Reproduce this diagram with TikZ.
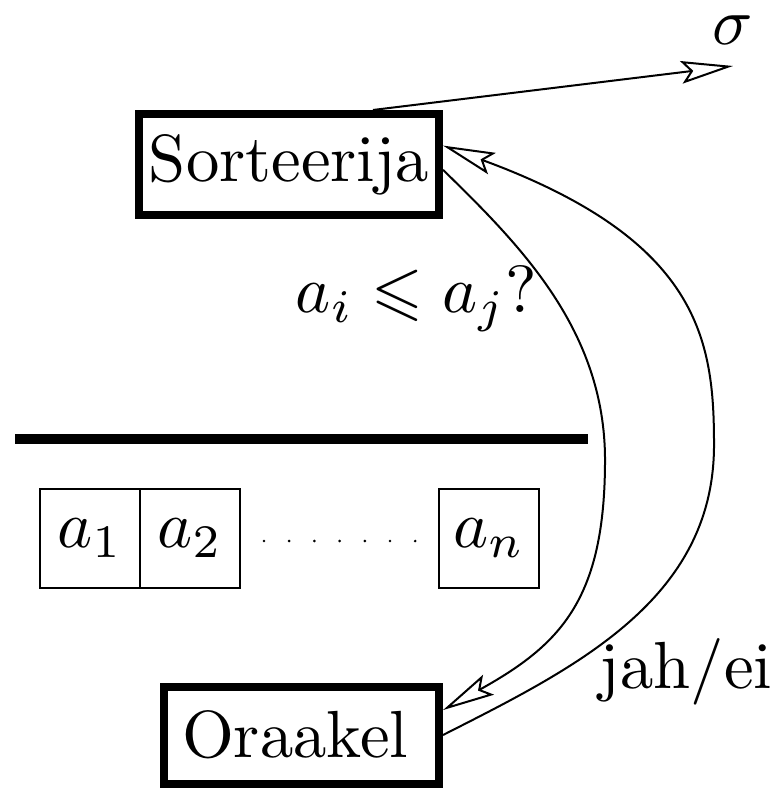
\documentclass[tikz,border=0pt]{standalone}
\usepackage{fontspec}
\usepackage{amssymb}
\usetikzlibrary{arrows.meta}
\begin{document}
\begin{tikzpicture}[x=0.15pt,y=-0.15pt,
  thickbox/.style={draw,line width=1.2pt,inner sep=0pt},
  cellbox/.style={draw,line width=0.3pt,minimum width=15pt,minimum height=14.85pt,inner sep=0pt},
  conn/.style={line width=0.3pt,-{Stealth[open,length=7.8pt,width=3.4pt,inset=1.4pt]}},
  plain/.style={line width=0.3pt}]
\useasboundingbox (0,0) rectangle (780,790);
% main boxes
\node[thickbox,minimum width=45pt,minimum height=15.15pt] (sort) at (289,164.5) {Sorteerija};
\node[thickbox,minimum width=41.25pt,minimum height=14.55pt,text width=35.85pt,align=left,inner xsep=2.7pt] (ora) at (301.5,735) {Oraakel};
% labels
\node[anchor=base,inner sep=0pt] (sig) at (733,45) {$\sigma$};
\node[anchor=base,inner sep=0pt] (q) at (416.5,313) {$a_i \leqslant a_j?$};
\node[anchor=base,inner sep=0pt] (ans) at (686,688) {jah/ei};
\coordinate (sigend) at (733,66);
% separator bar
\draw[line width=1.5pt] (15,439) -- (588,439);
% array cells
\node[cellbox] (c1) at (90,538.5) {$a_1$};
\node[cellbox] (c2) at (190,538.5) {$a_2$};
\node[cellbox] (cn) at (489,538.5) {$a_n$};
\foreach \i in {0,...,6} \fill (264+25.2*\i,541) circle (0.22pt);
% connectors
\draw[conn] (sort.33.9) -- (sigend);
\draw[conn] (sort.-2) .. controls (520,245) and (605,330) .. (605,460)
  .. controls (605,600) and (560,645) .. (ora.10.8);
\draw[conn] (ora.east) .. controls (575,668) and (714,600) .. (714,445)
  .. controls (714,340) and (700,240) .. (sort.7.95);
\end{tikzpicture}
\end{document}
